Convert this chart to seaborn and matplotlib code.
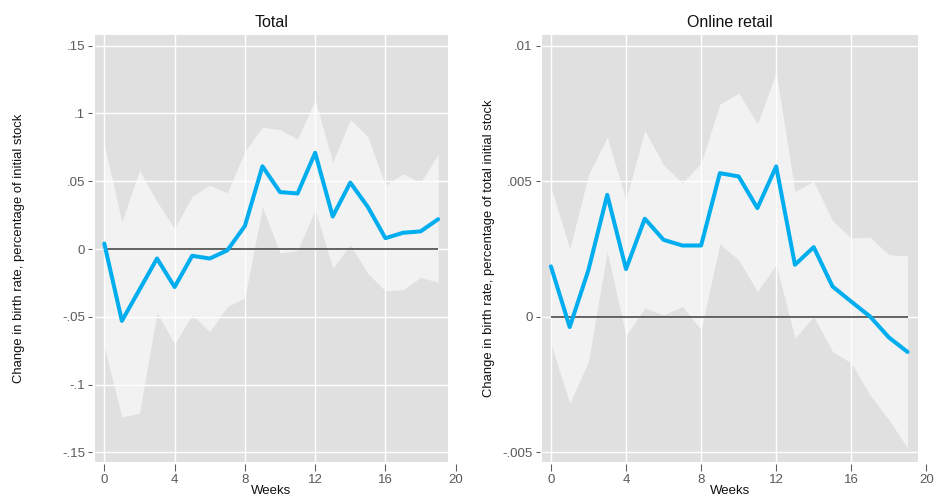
import numpy as np
import pandas as pd
import matplotlib
matplotlib.use('Agg')
import matplotlib.pyplot as plt
import seaborn as sns

# weeks after shock
weeks = list(range(20))

# Total: point estimate and 95% band
total_est = [0.004, -0.053, -0.030, -0.007, -0.028, -0.005, -0.007, -0.001, 0.017, 0.061,
             0.042, 0.041, 0.071, 0.024, 0.049, 0.031, 0.008, 0.012, 0.013, 0.022]
total_hi = [0.077, 0.020, 0.058, 0.035, 0.015, 0.039, 0.047, 0.0415, 0.072, 0.090,
            0.088, 0.081, 0.110, 0.064, 0.0955, 0.083, 0.047, 0.0555, 0.049, 0.070]
total_lo = [-0.072, -0.124, -0.121, -0.047, -0.070, -0.0485, -0.061, -0.0425, -0.036, 0.031,
            -0.003, -0.001, 0.029, -0.014, 0.003, -0.018, -0.031, -0.030, -0.021, -0.0245]

# Online retail: point estimate and 95% band
online_est = [0.00186, -0.00038, 0.00173, 0.0045, 0.00176, 0.00362, 0.00284, 0.00263, 0.00263, 0.0053,
              0.00518, 0.00401, 0.00555, 0.00192, 0.00257, 0.00112, 0.00056, 0.00001, -0.00076, -0.0013]
online_hi = [0.0048, 0.0025, 0.00524, 0.00662, 0.00432, 0.00688, 0.00561, 0.00493, 0.00567, 0.00785,
             0.00826, 0.00712, 0.00902, 0.00462, 0.0050, 0.00355, 0.0029, 0.00294, 0.00229, 0.00225]
online_lo = [-0.00097, -0.0032, -0.00165, 0.0024, -0.0007, 0.00032, 0.00007, 0.00038, -0.00048, 0.00269,
             0.0021, 0.00093, 0.00192, -0.00079, 0.00001, -0.00128, -0.00171, -0.00288, -0.0038, -0.00485]

xticks = [0, 4, 8, 12, 16, 20]
total_yticks = [-0.15, -0.1, -0.05, 0, 0.05, 0.1, 0.15]
online_yticks = [-0.005, 0, 0.005, 0.01]

titles = ['Total', 'Online retail']
ylabels = ['Change in birth rate, percentage of initial stock',
           'Change in birth rate, percentage of total initial stock']


def stata_fmt(v):
    # Stata-style labels: .05, -.1, 0
    v = round(v, 5)
    if v == 0:
        return '0'
    s = f'{v:g}'
    return s.replace('0.', '.')


sns.set_style('white')
plt.rcParams['font.family'] = ['Liberation Sans', 'DejaVu Sans']

BG = '#e0e0e0'
BAND = '#f2f2f2'
LINE = '#00aeef'

fig = plt.figure(figsize=(9.35, 4.97), dpi=100)
W, H = 935, 497

panels = [
    # x0 px, px per week, xmin, bg xmax, ylim, data, yticks, ylabel x (axes frac)
    (95, 17.57, -0.53, 19.54, (-0.1569, 0.1579), total_est, total_lo, total_hi, total_yticks, -0.194),
    (542.3, 18.77, -0.46, 19.57, (-0.00535, 0.0104), online_est, online_lo, online_hi, online_yticks, -0.1235),
]
xmax = 20.15
top_px, bot_px = 35, 461.7

for i, (x0, ppw, xmin, bgmax, ylim, est, lo, hi, yt, ylx) in enumerate(panels):
    width = (xmax - xmin) * ppw
    ax = fig.add_axes([x0 / W, (H - bot_px) / H, width / W, (bot_px - top_px) / H])
    ax.set_facecolor('white')
    ax.set_xlim(xmin, xmax)
    ax.set_ylim(*ylim)
    # centre of the grey plot region, as axes fraction
    cx = ((xmin + bgmax) / 2 - xmin) / (xmax - xmin)

    ax.axvspan(xmin, bgmax, color=BG, lw=0, zorder=0)
    ax.fill_between(weeks, lo, hi, color=BAND, lw=0, zorder=1)
    ax.hlines(yt, xmin, bgmax, color='white', lw=1, zorder=1.5)
    for xv in xticks[:-1]:
        ax.axvline(xv, color='white', lw=1, zorder=1.5)
    ax.hlines(0, weeks[0], weeks[-1], color='#3a3a3a', lw=1.1, zorder=2)

    df = pd.DataFrame({'week': weeks, 'est': est})
    sns.lineplot(data=df, x='week', y='est', ax=ax, color=LINE, lw=2.9, zorder=3)

    for s in ax.spines.values():
        s.set_visible(False)
    ax.set_xticks(xticks)
    ax.set_yticks(yt)
    ax.set_yticklabels([stata_fmt(v) for v in yt])
    ax.tick_params(axis='y', which='both', left=True, length=3, width=0.8, color='#606060',
                   pad=2, labelsize=9.5, labelcolor='#5a5a5a')
    ax.tick_params(axis='x', which='both', bottom=True, length=5, width=0.8, color='#606060',
                   pad=2, labelsize=9.5, labelcolor='#5a5a5a')
    ax.spines['left'].set_position(('outward', 2))
    ax.spines['bottom'].set_position(('outward', 2))

    ax.set_title(titles[i], fontsize=11.5, color='#111111', pad=6, x=cx)
    ax.set_xlabel('Weeks', fontsize=9.5, color='#111111', labelpad=-1)
    ax.xaxis.set_label_coords(cx, -0.055)
    ax.set_ylabel(ylabels[i], fontsize=9.4, color='#111111')
    ax.yaxis.set_label_coords(ylx, 0.5)

fig.savefig('out.png', dpi=100)
